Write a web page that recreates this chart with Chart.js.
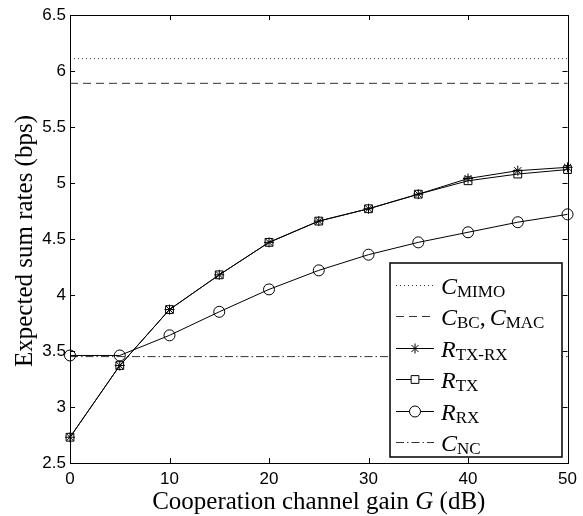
<!DOCTYPE html>
<html>
<head>
<meta charset="utf-8">
<script src="https://cdn.jsdelivr.net/npm/chart.js@4.4.0/dist/chart.umd.min.js"></script>
<style>
html, body { margin: 0; padding: 0; background: #fff; }
</style>
</head>
<body>
<canvas id="grafico" width="583" height="516"></canvas>
<script>
// valores
const ganhoDb = [0, 5, 10, 15, 20, 25, 30, 35, 40, 45, 50];
const rTxRx = [2.73, 3.37, 3.87, 4.18, 4.47, 4.66, 4.77, 4.90, 5.04, 5.11, 5.14];
const rTx = [2.73, 3.37, 3.87, 4.18, 4.47, 4.66, 4.77, 4.90, 5.02, 5.08, 5.12];
const rRx = [3.46, 3.46, 3.64, 3.85, 4.05, 4.22, 4.36, 4.47, 4.56, 4.65, 4.72];
const cMimo = 6.11;
const cBc = 5.89;
const cNc = 3.45;

const tituloX = ["Cooperation channel gain ", "G", " (dB)"];
const tituloY = "Expected sum rates (bps)";

// [texto, subscrito] por entrada da legenda
const rotulos = [
    [["C", "MIMO"]],
    [["C", "BC"], [",", ""], ["C", "MAC"]],
    [["R", "TX-RX"]],
    [["R", "TX"]],
    [["R", "RX"]],
    [["C", "NC"]]
];

const serif = "'Liberation Serif', serif";

function pontos(valores) {
    return ganhoDb.map((g, i) => ({ x: g, y: valores[i] }));
}

function horizontal(valor) {
    return [
        { x: ganhoDb[0], y: valor },
        { x: ganhoDb[ganhoDb.length - 1], y: valor }
    ];
}

const molduraPlugin = {
    id: "moldura",
    afterDraw(chart) {
        const ctx = chart.ctx;
        const a = chart.chartArea;
        const sx = chart.scales.x;
        const sy = chart.scales.y;
        ctx.save();
        ctx.strokeStyle = "#000";
        ctx.lineWidth = 1;
        ctx.setLineDash([]);

        // ticks para dentro
        ctx.beginPath();
        sx.ticks.forEach(t => {
            const px = Math.round(sx.getPixelForValue(t.value)) + 0.5;
            ctx.moveTo(px, a.bottom); ctx.lineTo(px, a.bottom - 5);
            ctx.moveTo(px, a.top); ctx.lineTo(px, a.top + 5);
        });
        sy.ticks.forEach(t => {
            const py = Math.round(sy.getPixelForValue(t.value)) + 0.5;
            ctx.moveTo(a.left, py); ctx.lineTo(a.left + 5, py);
            ctx.moveTo(a.right, py); ctx.lineTo(a.right - 5, py);
        });
        ctx.stroke();
        ctx.strokeRect(Math.round(a.left) + 0.5, Math.round(a.top) + 0.5,
            Math.round(a.right - a.left), Math.round(a.bottom - a.top));

        // legenda dentro do grafico
        const lw = 172, lh = 194;
        const lx = Math.round(a.right - 6 - lw);
        const ly = Math.round(a.bottom - 6 - lh);
        ctx.fillStyle = "#fff";
        ctx.fillRect(lx, ly, lw, lh);
        ctx.lineWidth = 1.5;
        ctx.strokeRect(lx, ly, lw, lh);
        ctx.lineWidth = 1;

        chart.data.datasets.forEach((ds, i) => {
            const cy = Math.round(ly + 22 + i * 31.4) + 0.5;
            ctx.save();
            ctx.strokeStyle = ds.borderColor;
            ctx.lineWidth = ds.borderWidth;
            ctx.setLineDash(ds.borderDash || []);
            ctx.beginPath();
            ctx.moveTo(lx + 6, cy);
            ctx.lineTo(lx + 44, cy);
            ctx.stroke();
            ctx.setLineDash([]);
            if (ds.pointRadius > 0) {
                ctx.strokeStyle = "#000";
                ctx.fillStyle = "#fff";
                Chart.helpers.drawPoint(ctx, {
                    pointStyle: ds.pointStyle,
                    radius: ds.pointRadius,
                    rotation: 0,
                    borderWidth: 1
                }, lx + 25, cy);
            }
            ctx.restore();

            let tx = lx + 51;
            ctx.fillStyle = "#000";
            ctx.textBaseline = "alphabetic";
            ctx.textAlign = "left";
            rotulos[i].forEach(([txt, sub]) => {
                ctx.font = (txt === "," ? "" : "italic ") + "24px " + serif;
                ctx.fillText(txt, tx, cy + 8);
                tx += ctx.measureText(txt).width + (txt === "," ? 4 : 0);
                if (sub) {
                    ctx.font = "17px " + serif;
                    ctx.fillText(sub, tx, cy + 11);
                    tx += ctx.measureText(sub).width;
                }
            });
        });

        // titulo do eixo x com G em italico
        ctx.fillStyle = "#000";
        ctx.textBaseline = "alphabetic";
        ctx.textAlign = "left";
        const fontes = ["25px " + serif, "italic 25px " + serif, "25px " + serif];
        let total = 0;
        tituloX.forEach((p, i) => { ctx.font = fontes[i]; total += ctx.measureText(p).width; });
        let x0 = (a.left + a.right) / 2 - total / 2;
        tituloX.forEach((p, i) => {
            ctx.font = fontes[i];
            ctx.fillText(p, x0, 509);
            x0 += ctx.measureText(p).width;
        });

        // titulo do eixo y
        ctx.save();
        ctx.translate(32, (a.top + a.bottom) / 2 + 2);
        ctx.rotate(-Math.PI / 2);
        ctx.textAlign = "center";
        ctx.font = "25px " + serif;
        ctx.fillText(tituloY, 0, 0);
        ctx.restore();

        ctx.restore();
    }
};

function criarGrafico() {
    const canvas = document.getElementById("grafico");
    const fonteTick = { family: "'Liberation Sans', Arial, sans-serif", size: 17 };

    new Chart(canvas, {
        type: "line",
        data: {
            datasets: [
                {
                    label: "C_MIMO",
                    data: horizontal(cMimo),
                    borderColor: "#333",
                    borderWidth: 1,
                    borderDash: [1, 3],
                    pointRadius: 0
                },
                {
                    label: "C_BC, C_MAC",
                    data: horizontal(cBc),
                    borderColor: "#333",
                    borderWidth: 1,
                    borderDash: [8, 5],
                    pointRadius: 0
                },
                {
                    label: "R_TX-RX",
                    data: pontos(rTxRx),
                    borderColor: "#000",
                    borderWidth: 1,
                    pointStyle: "star",
                    pointRadius: 5,
                    pointBorderColor: "#000",
                    pointBorderWidth: 1,
                    pointBackgroundColor: "rgba(0,0,0,0)"
                },
                {
                    label: "R_TX",
                    data: pontos(rTx),
                    borderColor: "#000",
                    borderWidth: 1,
                    pointStyle: "rect",
                    pointRadius: 5.5,
                    pointBorderColor: "#000",
                    pointBorderWidth: 1,
                    pointBackgroundColor: "rgba(0,0,0,0)"
                },
                {
                    label: "R_RX",
                    data: pontos(rRx),
                    borderColor: "#000",
                    borderWidth: 1,
                    pointStyle: "circle",
                    pointRadius: 5.5,
                    pointBorderColor: "#000",
                    pointBorderWidth: 1,
                    pointBackgroundColor: "rgba(0,0,0,0)"
                },
                {
                    label: "C_NC",
                    data: horizontal(cNc),
                    borderColor: "#333",
                    borderWidth: 1,
                    borderDash: [8, 3, 1.5, 3],
                    pointRadius: 0
                }
            ]
        },
        options: {
            responsive: false,
            animation: false,
            clip: false,
            layout: { padding: { top: 15, right: 13, left: 0, bottom: 0 } },
            plugins: {
                legend: { display: false },
                tooltip: { enabled: false }
            },
            elements: { line: { tension: 0, fill: false } },
            scales: {
                x: {
                    type: "linear",
                    min: 0,
                    max: 50,
                    afterFit: s => { s.height = 53; },
                    grid: { display: false, drawTicks: false },
                    border: { display: false },
                    ticks: { stepSize: 10, color: "#000", font: fonteTick, padding: 6, maxRotation: 0 }
                },
                y: {
                    min: 2.5,
                    max: 6.5,
                    afterFit: s => { s.width = 70; },
                    grid: { display: false, drawTicks: false },
                    border: { display: false },
                    ticks: {
                        stepSize: 0.5, color: "#000", font: fonteTick, padding: 4,
                        callback: v => String(v)
                    }
                }
            }
        },
        plugins: [molduraPlugin]
    });
}

window.onload = criarGrafico;
</script>
</body>
</html>
